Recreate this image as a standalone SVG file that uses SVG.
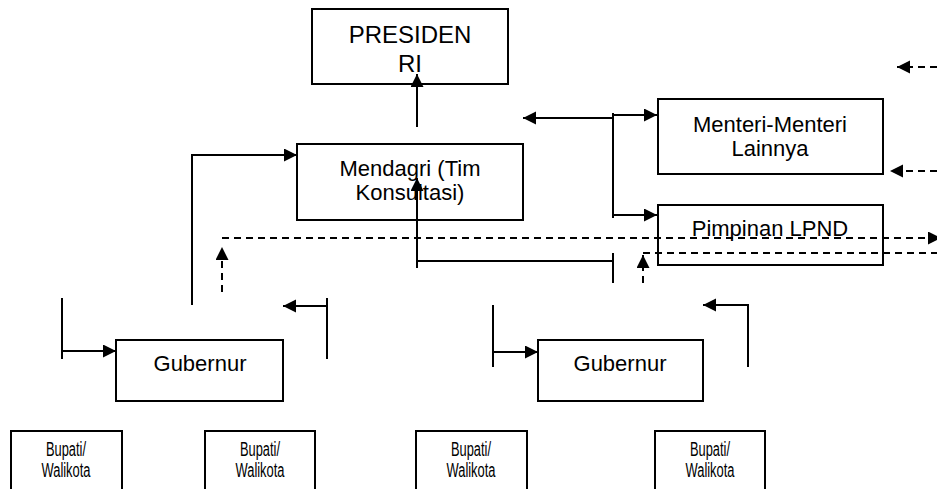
<svg xmlns="http://www.w3.org/2000/svg" width="937" height="489" viewBox="0 0 937 489">
<style>
.box{fill:#fff;stroke:#000;stroke-width:2}
.t{font-family:"Liberation Sans",Arial,sans-serif;font-size:22px;fill:#000;text-anchor:middle}
.tb{font-family:"Liberation Sans",Arial,sans-serif;font-size:20px;fill:#000;text-anchor:middle}
.ln{fill:none;stroke:#000;stroke-width:2}
.ds{fill:none;stroke:#000;stroke-width:2;stroke-dasharray:7 5}
</style>
<defs>
<marker id="ah" markerUnits="userSpaceOnUse" markerWidth="14" markerHeight="14" refX="13" refY="6.5" orient="auto">
<path d="M0,0 L13,6.5 L0,13 z" fill="#000"/>
</marker>
</defs>
<g id="presiden"><rect class="box" x="312" y="9" width="196" height="75"/>
<text class="t" style="font-size:24px" x="410" y="43">PRESIDEN</text>
<text class="t" style="font-size:24px" x="410" y="72">RI</text></g>
<g id="mendagri"><rect class="box" x="297" y="144" width="226" height="76"/>
<text class="t" x="410" y="176">Mendagri (Tim</text>
<text class="t" x="410" y="200">Konsultasi)</text></g>
<g id="menteri"><rect class="box" x="658" y="99" width="225" height="75"/>
<text class="t" x="770" y="132">Menteri-Menteri</text>
<text class="t" x="770" y="156">Lainnya</text></g>
<g id="lpnd"><rect class="box" x="658" y="205" width="225" height="60"/>
<text class="t" x="770" y="236">Pimpinan LPND</text></g>
<g id="gubernur1"><rect class="box" x="116" y="340" width="167" height="61"/>
<text class="t" x="200" y="371">Gubernur</text></g>
<g id="gubernur2"><rect class="box" x="538" y="340" width="165" height="61"/>
<text class="t" x="620" y="371">Gubernur</text></g>
<g id="bupati1"><rect class="box" x="11" y="431" width="111" height="80"/>
<text class="tb" x="66" y="456" textLength="40" lengthAdjust="spacingAndGlyphs">Bupati/</text>
<text class="tb" x="66" y="477" textLength="49" lengthAdjust="spacingAndGlyphs">Walikota</text></g>
<g id="bupati2"><rect class="box" x="205" y="431" width="110" height="80"/>
<text class="tb" x="260" y="456" textLength="40" lengthAdjust="spacingAndGlyphs">Bupati/</text>
<text class="tb" x="260" y="477" textLength="49" lengthAdjust="spacingAndGlyphs">Walikota</text></g>
<g id="bupati3"><rect class="box" x="416" y="431" width="111" height="80"/>
<text class="tb" x="471" y="456" textLength="40" lengthAdjust="spacingAndGlyphs">Bupati/</text>
<text class="tb" x="471" y="477" textLength="49" lengthAdjust="spacingAndGlyphs">Walikota</text></g>
<g id="bupati4"><rect class="box" x="655" y="431" width="110" height="80"/>
<text class="tb" x="710" y="456" textLength="40" lengthAdjust="spacingAndGlyphs">Bupati/</text>
<text class="tb" x="710" y="477" textLength="49" lengthAdjust="spacingAndGlyphs">Walikota</text></g>
<g id="connectors">
<path class="ln" d="M417,127 V74" marker-end="url(#ah)"/>
<path class="ln" d="M192,305 V155 H297" marker-end="url(#ah)"/>
<path class="ln" d="M417,268 V178" marker-end="url(#ah)"/>
<path class="ln" d="M417,261 H613 M613,253 V283"/>
<path class="ln" d="M613,113 V218"/>
<path class="ln" d="M613,118 H523" marker-end="url(#ah)"/>
<path class="ln" d="M613,115 H657" marker-end="url(#ah)"/>
<path class="ln" d="M613,215 H657" marker-end="url(#ah)"/>
<path class="ds" d="M222,292 V247" marker-end="url(#ah)"/>
<path class="ds" d="M222,238 H941" marker-end="url(#ah)"/>
<path class="ds" d="M643,283 V255" marker-end="url(#ah)"/>
<path class="ds" d="M643,253 H937"/>
<path class="ds" d="M937,67 H897" marker-end="url(#ah)"/>
<path class="ds" d="M937,171 H890" marker-end="url(#ah)"/>
<path class="ln" d="M62,298 V359"/>
<path class="ln" d="M62,351 H116" marker-end="url(#ah)"/>
<path class="ln" d="M327,298 V359"/>
<path class="ln" d="M327,306 H283" marker-end="url(#ah)"/>
<path class="ln" d="M493,305 V367"/>
<path class="ln" d="M493,352 H538" marker-end="url(#ah)"/>
<path class="ln" d="M748,367 V305 H703" marker-end="url(#ah)"/>
</g>
</svg>
